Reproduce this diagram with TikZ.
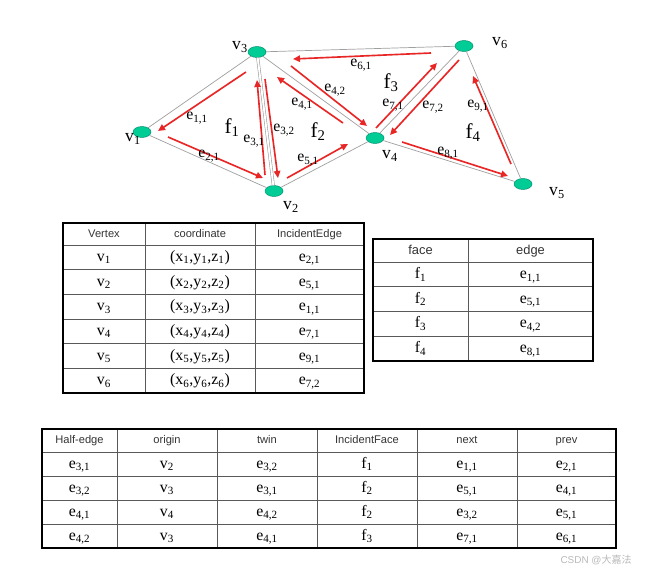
\documentclass[tikz,border=0pt]{standalone}
\usepackage{fontspec}
\setmainfont{Liberation Serif}
\setsansfont{Liberation Sans}
\newfontfamily\cjk{Noto Sans CJK SC}
\usetikzlibrary{arrows.meta, positioning, calc, shapes.geometric}
\definecolor{vgreen}{RGB}{0,204,150}
\definecolor{vrim}{RGB}{0,140,110}
\definecolor{hred}{RGB}{232,38,38}
\newcommand{\hedge}[2]{e\textsubscript{#1,#2}}
\newcommand{\vx}[1]{v\textsubscript{#1}}
\newcommand{\fc}[1]{f\textsubscript{#1}}
\newcommand{\crd}[1]{(x\textsubscript{#1},y\textsubscript{#1},z\textsubscript{#1})}
\tikzset{
  vtx/.style={ellipse, draw=vrim, fill=vgreen, minimum width=0.54cm,
              minimum height=0.33cm, inner sep=0pt, line width=0.4pt},
  edg/.style={draw=gray!75, line width=0.6pt},
  hedg/.style={draw=hred, line width=1.4pt, -{Triangle[length=6pt,width=5.5pt]}},
  elbl/.style={font=\fontsize{13.5}{15}\selectfont, inner sep=0pt},
  vlbl/.style={font=\fontsize{15}{17}\selectfont, inner sep=0pt},
  flbl/.style={font=\fontsize{18}{20}\selectfont, inner sep=0pt},
  hdr/.style={font=\sffamily\fontsize{9.5}{11}\selectfont, text=black!80,
              text height=1.6ex, text depth=0.4ex},
  cell/.style={font=\fontsize{13.5}{15}\selectfont, text height=9pt, text depth=2pt},
  tbout/.style={draw=black, line width=1.6pt},
  tbin/.style={draw=gray!70!black, line width=0.6pt},
}

\begin{document}
\begin{tikzpicture}[x=0.03cm, y=-0.03cm]
  \useasboundingbox (0,0) rectangle (651,572);

  % vertices
  \node[vtx] (v1) at (142,132) {};
  \node[vtx] (v2) at (274,191) {};
  \node[vtx] (v3) at (257,52)  {};
  \node[vtx] (v4) at (375,138) {};
  \node[vtx] (v5) at (523,184) {};
  \node[vtx] (v6) at (464,46)  {};

  % mesh edges
  \draw[edg] (v1) -- (v3);
  \draw[edg] (v1) -- (v2);
  \draw[edg, double=white, double distance=1.6pt, line width=0.5pt] (v3) -- (v2);
  \draw[edg] (v3) -- (v6);
  \draw[edg] (v3) -- (v4);
  \draw[edg] (v2) -- (v4);
  \draw[edg] (v4) -- (v6);
  \draw[edg] (v4) -- (v5);
  \draw[edg] (v6) -- (v5);

  % half-edge end points
  \coordinate (e11s) at (246,72);  \coordinate (e11t) at (158,131);
  \coordinate (e21s) at (168,137); \coordinate (e21t) at (263,178);
  \coordinate (e31s) at (265,175); \coordinate (e31t) at (257,80);
  \coordinate (e32s) at (265,79);  \coordinate (e32t) at (278,178);
  \coordinate (e41s) at (343,123); \coordinate (e41t) at (277,77);
  \coordinate (e42s) at (291,66);  \coordinate (e42t) at (367,126);
  \coordinate (e51s) at (287,178); \coordinate (e51t) at (348,144);
  \coordinate (e61s) at (431,53);  \coordinate (e61t) at (293,59);
  \coordinate (e71s) at (376,128); \coordinate (e71t) at (437,63);
  \coordinate (e72s) at (459,60);  \coordinate (e72t) at (390,135);
  \coordinate (e81s) at (402,142); \coordinate (e81t) at (508,176);
  \coordinate (e91s) at (511,164); \coordinate (e91t) at (473,76);

  \foreach \h in {e11,e21,e31,e32,e41,e42,e51,e61,e71,e72,e81,e91}
    \draw[hedg] (\h s) -- (\h t);

  % half-edge labels
  \node[elbl] (l11) at (197,118) {\hedge11};
  \node[elbl] (l21) at (209,156) {\hedge21};
  \node[elbl] (l31) at (254,141) {\hedge31};
  \node[elbl] (l32) at (284,130) {\hedge32};
  \node[elbl] (l41) at (302,104) {\hedge41};
  \node[elbl] (l42) at (335,90)  {\hedge42};
  \node[elbl] (l51) at (308,160) {\hedge51};
  \node[elbl] (l61) at (361,65)  {\hedge61};
  \node[elbl] (l71) at (393,105) {\hedge71};
  \node[elbl] (l72) at (433,107) {\hedge72};
  \node[elbl] (l81) at (448,153) {\hedge81};
  \node[elbl] (l91) at (478,106) {\hedge91};

  % face labels
  \node[flbl] (f1) at (232,128) {\fc1};
  \node[flbl] (f2) at (318,132) {\fc2};
  \node[flbl] (f3) at (391,83)  {\fc3};
  \node[flbl] (f4) at (473,133) {\fc4};

  % vertex labels
  \node[vlbl] (n1) at (133,139) {\vx1};
  \node[vlbl] (n2) at (291,207) {\vx2};
  \node[vlbl] (n3) at (240,47)  {\vx3};
  \node[vlbl] (n4) at (390,156) {\vx4};
  \node[vlbl] (n5) at (557,193) {\vx5};
  \node[vlbl] (n6) at (500,43)  {\vx6};

  % vertex table
  \foreach \x in {145,255} \draw[tbin] (\x,223) -- (\x,393);
  \foreach \i in {0,...,5} \draw[tbin] (63,{245+\i*24.67}) -- (364,{245+\i*24.67});
  \draw[tbout] (63,223) rectangle (364,393);
  \node[hdr] (vth1) at (104,234) {Vertex};
  \node[hdr] (vth2) at (200,234) {coordinate};
  \node[hdr] (vth3) at (309.5,234) {IncidentEdge};
  \foreach \a/\b/\c [count=\i] in {\vx1/\crd1/\hedge21, \vx2/\crd2/\hedge51,
      \vx3/\crd3/\hedge11, \vx4/\crd4/\hedge71, \vx5/\crd5/\hedge91, \vx6/\crd6/\hedge72} {
    \node[cell] (vt\i a) at (104,{245+(\i-0.5)*24.67}) {\a};
    \node[cell] (vt\i b) at (200,{245+(\i-0.5)*24.67}) {\b};
    \node[cell] (vt\i c) at (309.5,{245+(\i-0.5)*24.67}) {\c};
  }

  % face table
  \draw[tbin] (468,239) -- (468,361);
  \foreach \i in {0,...,3} \draw[tbin] (373,{262+\i*24.75}) -- (593,{262+\i*24.75});
  \draw[tbout] (373,239) rectangle (593,361);
  \node[hdr, font=\sffamily\fontsize{11}{13}\selectfont] (fth1) at (420.5,251) {face};
  \node[hdr, font=\sffamily\fontsize{11}{13}\selectfont] (fth2) at (530.5,251) {edge};
  \foreach \a/\b [count=\i] in {\fc1/\hedge11, \fc2/\hedge51, \fc3/\hedge42, \fc4/\hedge81} {
    \node[cell] (ft\i a) at (420.5,{262+(\i-0.5)*24.75}) {\a};
    \node[cell] (ft\i b) at (530.5,{262+(\i-0.5)*24.75}) {\b};
  }

  % half-edge table
  \foreach \x in {117,217,317,417,517} \draw[tbin] (\x,429) -- (\x,548);
  \foreach \i in {0,...,3} \draw[tbin] (42,{452+\i*24}) -- (616,{452+\i*24});
  \draw[tbout] (42,429) rectangle (616,548);
  \foreach \t/\x [count=\j] in {Half-edge/79.5, origin/167, twin/267,
      IncidentFace/367, next/467, prev/566.5}
    \node[hdr] (hth\j) at (\x,440.5) {\t};
  \foreach \a/\b/\c/\d/\e/\f [count=\i] in {
      \hedge31/\vx2/\hedge32/\fc1/\hedge11/\hedge21,
      \hedge32/\vx3/\hedge31/\fc2/\hedge51/\hedge41,
      \hedge41/\vx4/\hedge42/\fc2/\hedge32/\hedge51,
      \hedge42/\vx3/\hedge41/\fc3/\hedge71/\hedge61} {
    \node[cell] (ht\i a) at (79.5,{452+(\i-0.5)*24}) {\a};
    \node[cell] (ht\i b) at (167,{452+(\i-0.5)*24}) {\b};
    \node[cell] (ht\i c) at (267,{452+(\i-0.5)*24}) {\c};
    \node[cell] (ht\i d) at (367,{452+(\i-0.5)*24}) {\d};
    \node[cell] (ht\i e) at (467,{452+(\i-0.5)*24}) {\e};
    \node[cell] (ht\i f) at (566.5,{452+(\i-0.5)*24}) {\f};
  }

  % watermark
  \node[text=gray!55, font=\sffamily\fontsize{8.5}{10}\selectfont] (wm) at (596,560)
    {CSDN @{\cjk 大嘉法}};
\end{tikzpicture}
\end{document}
